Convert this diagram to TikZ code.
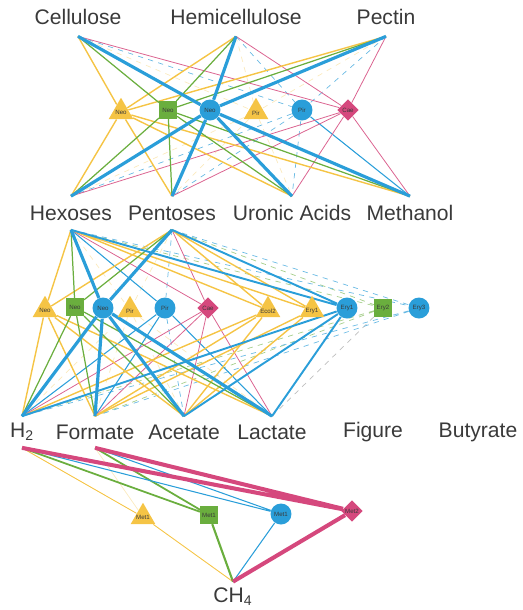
\documentclass[tikz,border=0pt]{standalone}
\usepackage{fontspec}
\setmainfont{Liberation Sans}
\usetikzlibrary{shapes.geometric,backgrounds}
\definecolor{gyel}{HTML}{F5C445}
\definecolor{ggrn}{HTML}{6AAE3E}
\definecolor{gblu}{HTML}{2A9ED9}
\definecolor{gpnk}{HTML}{D5487D}
\definecolor{gtxt}{HTML}{3A3A3A}

\begin{document}
\begin{tikzpicture}[x=0.02cm, y=-0.02cm,
		lbl/.style={inner sep=0pt, text=gtxt, font=\fontsize{12}{14}\selectfont},
		org/.style={inner sep=0pt, text=gtxt, font=\fontsize{3.5}{4}\selectfont},
		tri/.style={regular polygon, regular polygon sides=3, fill=gyel, minimum size=0.57cm, inner sep=0pt, label={[org, yshift=-0.5pt]center:#1}},
		sq/.style={org, rectangle, fill=ggrn, minimum size=0.35cm},
		circ/.style={org, circle, fill=gblu, minimum size=0.42cm},
		dia/.style={org, diamond, fill=gpnk, minimum size=0.43cm},
		yl/.style={draw=gyel, line width=0.8pt},
		ylf/.style={draw=gyel!35, line width=0.4pt, dashed},
		gn/.style={draw=ggrn, line width=0.7pt},
		gnd/.style={draw=ggrn!60, line width=0.4pt, dashed},
		bl/.style={draw=gblu, line width=0.6pt},
		blk/.style={draw=gblu, line width=1.8pt},
		bld/.style={draw=gblu!70, line width=0.4pt, dashed},
		pk/.style={draw=gpnk!85, line width=0.45pt},
		pkk/.style={draw=gpnk, line width=2.3pt}
	]
	\useasboundingbox (0,0) rectangle (522,610);
	% Substrates
	\node[lbl, minimum height=0.76cm] (cellu) at (78,17) {Cellulose};
	\node[lbl, minimum height=0.76cm] (hemi) at (236,17) {Hemicellulose};
	\node[lbl, minimum height=0.76cm] (pect) at (386,17) {Pectin};
	% Hydrolysers
	\node[tri=Neo] (neoTri1) at (121,112) {};
	\node[sq] (neoSq1) at (168,110) {Neo};
	\node[circ] (neoCi1) at (210,110) {Neo};
	\node[tri=Pir] (pirTri1) at (256,112) {};
	\node[circ] (pirCi1) at (302,110) {Pir};
	\node[dia] (caeDi1) at (348,110) {Cae};
	% Monomers
	\node[lbl, minimum height=0.66cm] (hexo) at (71,213) {Hexoses};
	\node[lbl, minimum height=0.66cm] (pento) at (172,213) {Pentoses};
	\node[lbl, minimum height=0.66cm] (uron) at (292,213) {Uronic Acids};
	\node[lbl, minimum height=0.66cm] (metha) at (410,213) {Methanol};
	% Fermenters
	\node[tri=Neo] (neoTri2) at (45,310) {};
	\node[sq] (neoSq2) at (75,307) {Neo};
	\node[circ] (neoCi2) at (103,308) {Neo};
	\node[tri=Pir] (pirTri2) at (130,310) {};
	\node[circ] (pirCi2) at (165,308) {Pir};
	\node[dia] (caeDi2) at (208,308) {Cae};
	\node[tri=Ecol2] (ecolTri2) at (268,310) {};
	\node[tri=Ery1] (eryTri2) at (312,310) {};
	\node[circ] (eryCi2) at (347,308) {Ery1};
	\node[sq] (erySq2) at (383,308) {Ery2};
	\node[circ] (eryCi3) at (419,308) {Ery3};
	% Products
	\node[lbl, minimum height=0.62cm] (htwo) at (22,432) {H\textsubscript{2}};
	\node[lbl, minimum height=0.62cm] (form) at (95,432) {Formate};
	\node[lbl, minimum height=0.62cm] (acet) at (184,432) {Acetate};
	\node[lbl, minimum height=0.62cm] (lact) at (272,432) {Lactate};
	\node[lbl] (figu) at (373,432) {Figure};
	\node[lbl] (buty) at (478,432) {Butyrate};
	% Methanogens
	\node[tri=Met1] (metTri) at (143,517) {};
	\node[sq] (metSq) at (209,515) {Met1};
	\node[circ] (metCi) at (281,514) {Met1};
	\node[dia] (metDi) at (352,511) {Met2};
	\node[lbl, minimum height=0.60cm] (meth) at (233,597) {CH\textsubscript{4}};

	\begin{scope}[on background layer]
		% Substrates to hydrolysers
		\draw[ylf] (cellu.south) -- (pirTri1) (hemi.south) -- (pirTri1) (pect.south) -- (pirTri1);
		\draw[bld] (cellu.south) -- (pirCi1) (hemi.south) -- (pirCi1) (pect.south) -- (pirCi1);
		\draw[pk] (cellu.south) -- (caeDi1) (hemi.south) -- (caeDi1) (pect.south) -- (caeDi1);
		\draw[yl] (cellu.south) -- (neoTri1) (hemi.south) -- (neoTri1) (pect.south) -- (neoTri1);
		\draw[gn] (cellu.south) -- (neoSq1) (hemi.south) -- (neoSq1) (pect.south) -- (neoSq1);
		\draw[blk] (cellu.south) -- (neoCi1) (hemi.south) -- (neoCi1) (pect.south) -- (neoCi1);
		% Hydrolysers to monomers
		\draw[ylf] (pirTri1) -- (hexo.north) (pirTri1) -- (pento.north) (pirTri1) -- (uron.north);
		\draw[bld] (pirCi1) -- (hexo.north) (pirCi1) -- (pento.north) (pirCi1) -- (uron.north);
		\draw[bl] (pirCi1) -- (metha.north);
		\draw[pk] (caeDi1) -- (hexo.north) (caeDi1) -- (pento.north) (caeDi1) -- (uron.north) (caeDi1) -- (metha.north);
		\draw[yl] (neoTri1) -- (hexo.north) (neoTri1) -- (pento.north) (neoTri1) -- (uron.north) (neoTri1) -- (metha.north);
		\draw[gn] (neoSq1) -- (hexo.north) (neoSq1) -- (pento.north) (neoSq1) -- (uron.north) (neoSq1) -- (metha.north);
		\draw[blk] (neoCi1) -- (hexo.north) (neoCi1) -- (pento.north) (neoCi1) -- (uron.north) (neoCi1) -- (metha.north);
		% Monomers to fermenters
		\draw[ylf] (hexo.south) -- (pirTri2) (pento.south) -- (pirTri2);
		\draw[gnd] (hexo.south) -- (erySq2) (pento.south) -- (erySq2);
		\draw[bld] (hexo.south) -- (eryCi3) (pento.south) -- (eryCi3) (pento.south) -- (pirCi2);
		\draw[bl] (hexo.south) -- (pirCi2);
		\draw[pk] (hexo.south) -- (caeDi2) (pento.south) -- (caeDi2);
		\draw[yl] (hexo.south) -- (neoTri2) (pento.south) -- (neoTri2) (hexo.south) -- (ecolTri2) (pento.south) -- (ecolTri2) (hexo.south) -- (eryTri2) (pento.south) -- (eryTri2);
		\draw[gn] (hexo.south) -- (neoSq2) (pento.south) -- (neoSq2);
		\draw[bl, line width=1.1pt] (hexo.south) -- (eryCi2) (pento.south) -- (eryCi2);
		\draw[blk] (hexo.south) -- (neoCi2) (pento.south) -- (neoCi2);
		% Fermenters to products
		\draw[ylf] (pirTri2) -- (htwo.north) (pirTri2) -- (form.north) (pirTri2) -- (acet.north) (pirTri2) -- (lact.north);
		\draw[gnd] (erySq2) -- (htwo.north) (erySq2) -- (form.north);
		\draw[draw=black!25, line width=0.4pt, dashed] (erySq2) -- (lact.north);
		\draw[bld] (eryCi3) -- (htwo.north) (eryCi3) -- (form.north) (pirCi2) -- (acet.north);
		\draw[bl] (pirCi2) -- (htwo.north) (pirCi2) -- (form.north) (pirCi2) -- (lact.north);
		\draw[pk] (caeDi2) -- (htwo.north) (caeDi2) -- (form.north) (caeDi2) -- (acet.north) (caeDi2) -- (lact.north);
		\draw[yl] (neoTri2) -- (htwo.north) (neoTri2) -- (form.north) (neoTri2) -- (acet.north) (neoTri2) -- (lact.north);
		\draw[yl] (ecolTri2) -- (htwo.north) (ecolTri2) -- (form.north) (ecolTri2) -- (acet.north);
		\draw[yl] (eryTri2) -- (form.north) (eryTri2) -- (acet.north);
		\draw[gn] (neoSq2) -- (htwo.north) (neoSq2) -- (form.north) (neoSq2) -- (acet.north) (neoSq2) -- (lact.north);
		\draw[bl, line width=1.1pt] (eryCi2) -- (htwo.north) (eryCi2) -- (acet.north) (eryCi2) -- (lact.north);
		\draw[blk] (neoCi2) -- (htwo.north) (neoCi2) -- (form.north) (neoCi2) -- (acet.north) (neoCi2) -- (lact.north);
		% Products to methanogens
		\draw[ylf, solid] (form.south) -- (metTri);
		\draw[yl, line width=0.5pt] (htwo.south) -- (metTri);
		\draw[gn, line width=1pt] (htwo.south) -- (metSq) (form.south) -- (metSq);
		\draw[bl] (htwo.south) -- (metCi) (form.south) -- (metCi);
		\draw[pkk] (htwo.south) -- (metDi) (form.south) -- (metDi);
		% Methanogens to methane
		\draw[yl, line width=0.5pt] (metTri) -- (meth.north);
		\draw[gn, line width=1.2pt] (metSq) -- (meth.north);
		\draw[bl] (metCi) -- (meth.north);
		\draw[pkk] (metDi) -- (meth.north);
	\end{scope}
\end{tikzpicture}
\end{document}
